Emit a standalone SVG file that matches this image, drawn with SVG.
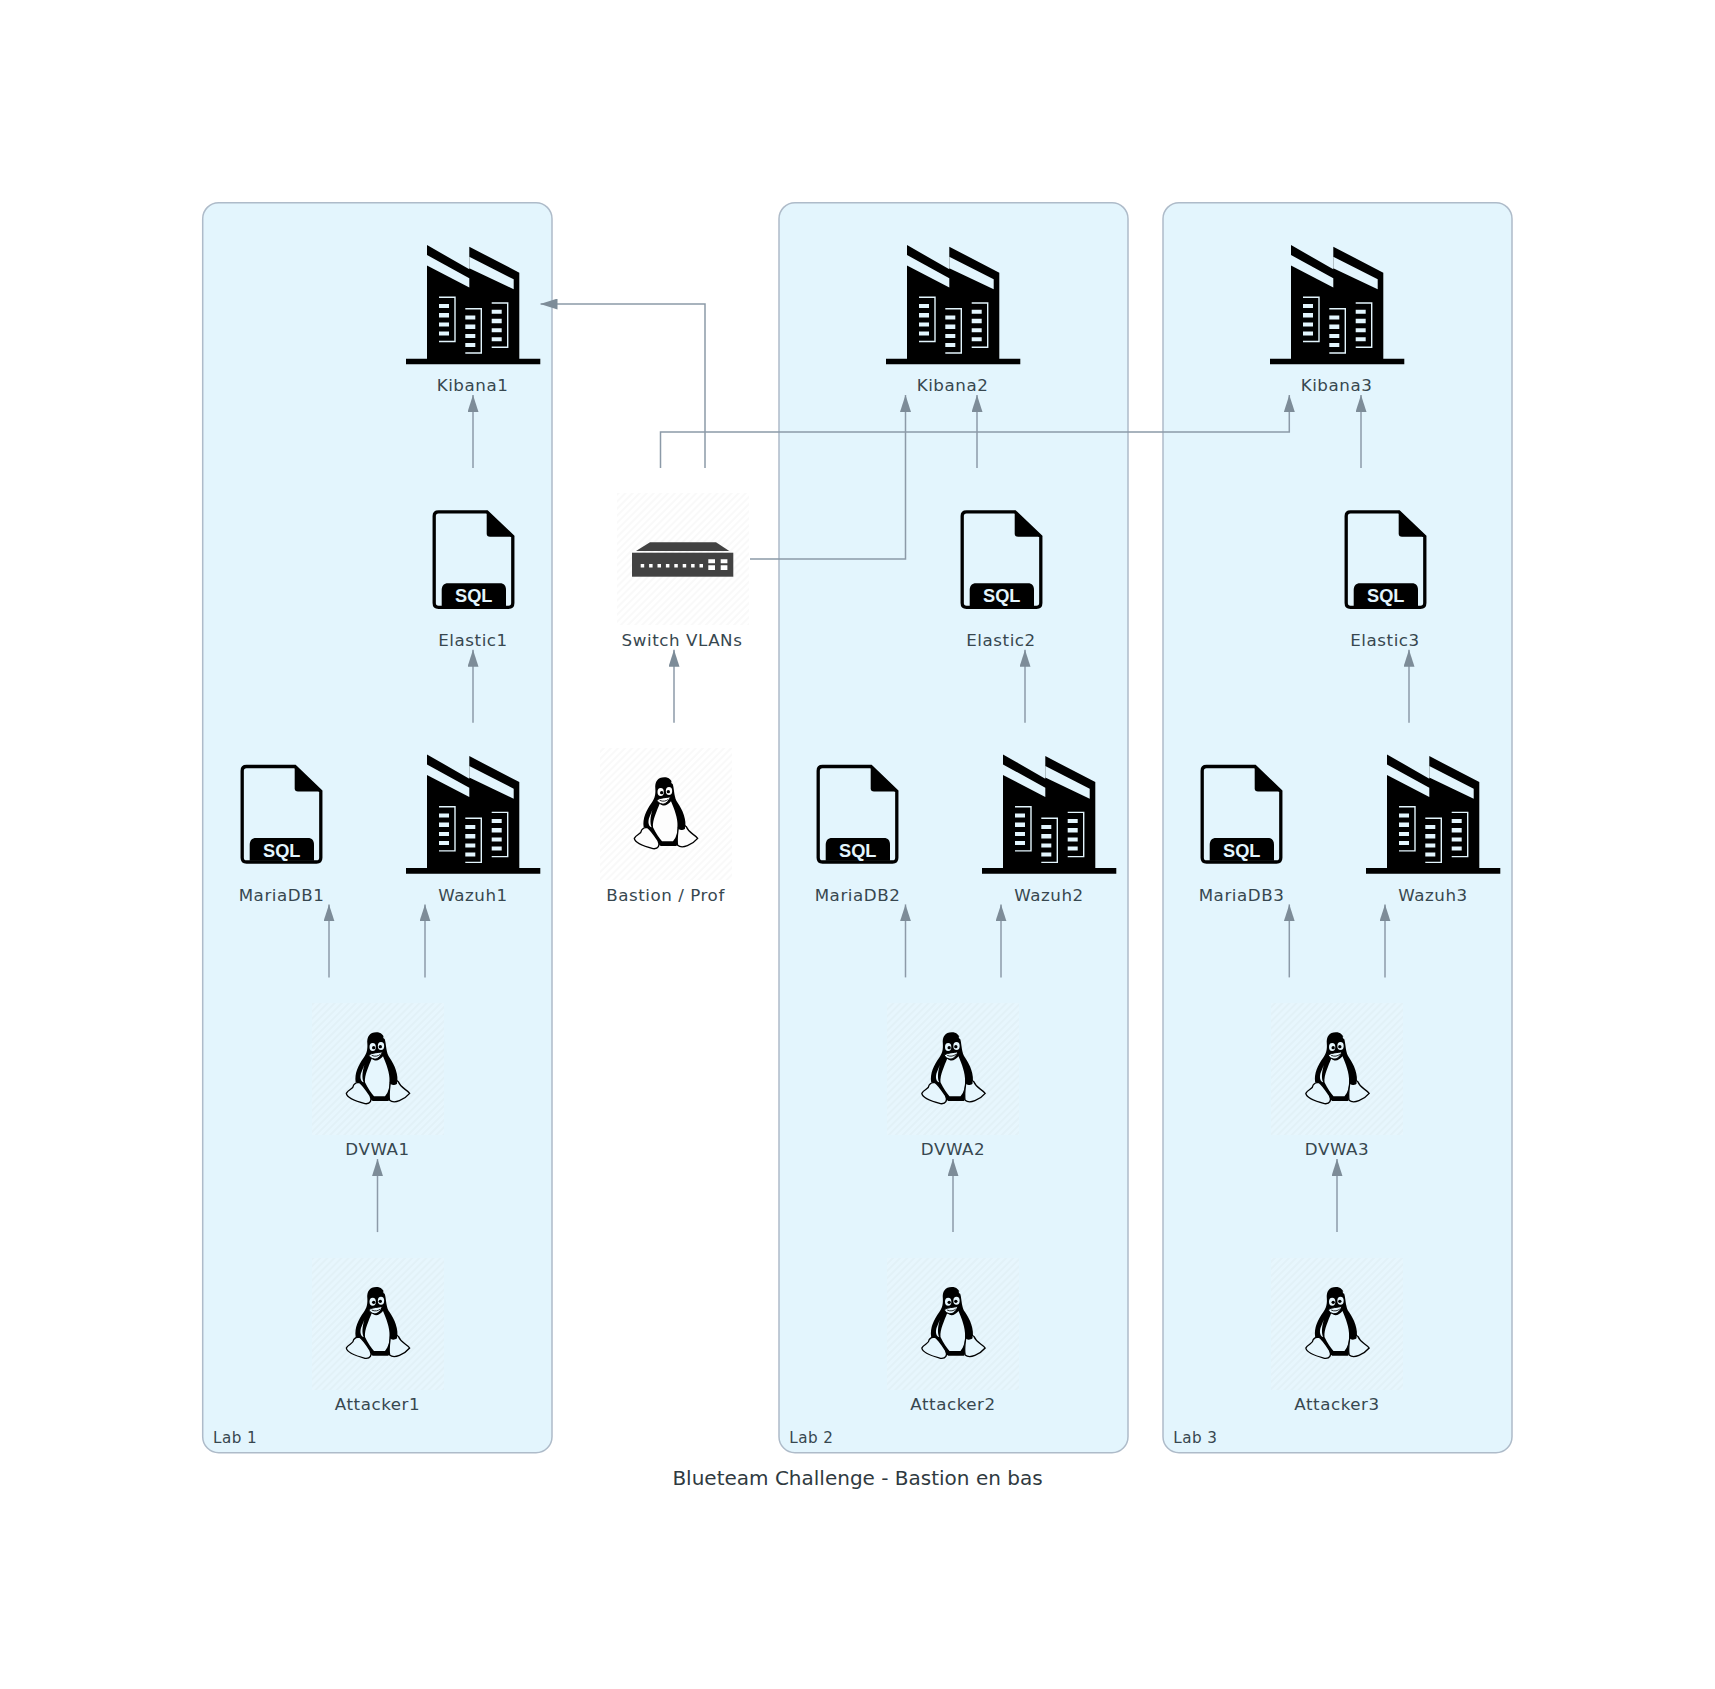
<svg xmlns="http://www.w3.org/2000/svg" xmlns:xlink="http://www.w3.org/1999/xlink" width="1715" height="1689" viewBox="0 0 1715 1689">
<style>
text{font-family:"DejaVu Sans",sans-serif;fill:#37474f}
.lbl{font-size:16.7px;text-anchor:middle;letter-spacing:.55px}
.lab{font-size:15.2px;letter-spacing:.45px}
.title{font-size:20px;text-anchor:middle;fill:#2f3a40}
.cluster{fill:#e3f5fd;stroke:#aebbc9;stroke-width:1.5}
.tile{fill:url(#hatch)}
.conn{fill:none;stroke:#8c9aa8;stroke-width:1.5;marker-end:url(#arrow)}
.sql{font-family:"Liberation Sans",Arial,sans-serif;font-weight:700;font-size:18.2px;text-anchor:middle;fill:#e3f5fd}
</style>
<defs>
<pattern id="hatch" width="5" height="5" patternUnits="userSpaceOnUse" patternTransform="rotate(45)">
<rect width="5" height="5" fill="#ffffff" fill-opacity="0.15"/>
<rect width="2" height="5" fill="#000000" fill-opacity="0.025"/>
</pattern>
<marker id="arrow" viewBox="0 0 17 11" refX="17" refY="5.5" markerWidth="17" markerHeight="11" markerUnits="userSpaceOnUse" orient="auto">
<path d="M0,0L17,5.5L0,11Z" fill="#7d8c98"/>
</marker>
<g id="factory">
<path d="M427,245L469.300,269.300L469.300,246.700L519.300,272.700V358.700H540.300V364.300H406V358.700H427Z" fill="#000"/>
<path d="M427,255L469.300,278.300V287.500L427,265.500ZM469.300,256.700L513.700,279.300V289.300L469.300,268.200Z" fill="#e3f5fd"/>
<g id="win" fill="#e3f5fd">
<path d="M439,304h10v4h-10zM439,313h10v4.500h-10zM439,322.500h10v4h-10zM439,331.500h10v4h-10z"/>
<path d="M439,297.300H455V341.500H439" fill="none" stroke="#e3f5fd" stroke-width="1.400"/>
</g>
<use xlink:href="#win" href="#win" x="26.300" y="11.500"/>
<use xlink:href="#win" href="#win" x="52.700" y="5.700"/>
</g>
<g id="sqlfile">
<path d="M438.500,511.800H487L512.800,536.500V603C512.800,605.800 511.300,607.300 508.500,607.300H438.500C435.700,607.300 434.200,605.800 434.200,603V516C434.200,513.300 435.700,511.800 438.500,511.800Z" fill="none" stroke="#000" stroke-width="3.300"/>
<path d="M486.700,510.500L514.300,536.700H490C487.800,536.700 486.700,535.600 486.700,533.500Z" fill="#000"/>
<path d="M441.700,606V590C441.700,585.800 444,583.300 448,583.300H500C504,583.300 506,585.800 506,590V606Z" fill="#000"/>
<text class="sql" x="473.700" y="602">SQL</text>
</g>
<g id="tux" transform="translate(341,1025) scale(0.33333)">
<path d="M106,22C86,22 77,36 79,56C80,72 78,84 68,98C52,120 40,145 44,172L62,180C70,196 84,220 95,228L142,228C152,215 162,195 168,176C174,150 160,118 146,98C135,84 136,60 132,45C128,30 120,22 106,22Z" fill="#000"/>
<path d="M92,101C84,122 70,150 72,172C80,190 92,205 99,214L132,214C143,200 146,186 146,170C146,142 136,118 126,94C115,108 102,110 92,101Z" fill="currentColor"/>
<path d="M70,120C64,140 62,160 68,172C60,170 56,160 60,145Z" fill="currentColor"/>
<path d="M127,34C131,36 133,40 131,42C128,42 126,38 127,34Z" fill="currentColor"/>
<ellipse cx="95" cy="66" rx="9.500" ry="12" fill="currentColor"/>
<ellipse cx="120" cy="63" rx="9.500" ry="12" fill="currentColor"/>
<circle cx="98" cy="68" r="5" fill="#000"/>
<circle cx="118" cy="65" r="5" fill="#000"/>
<path d="M83,90C95,82 110,84 124,80C120,94 110,103 100,102C92,101 87,97 83,90Z" fill="currentColor" stroke="#000" stroke-width="3"/>
<path d="M92,91C102,96 112,93 118,88" fill="none" stroke="#000" stroke-width="2.500"/>
<path d="M38,180C38,192 22,193 16,205C18,220 50,230 72,236C88,238 94,226 87,212C78,198 64,178 55,172C48,172 42,174 38,180Z" fill="currentColor" stroke="#000" stroke-width="4"/>
<path d="M148,172C146,190 142,210 146,226C160,238 190,224 206,205C196,192 180,190 172,170C165,163 155,165 148,172Z" fill="currentColor" stroke="#000" stroke-width="4"/>
<path d="M148,140C162,148 170,166 168,176C158,184 148,180 146,172Z" fill="#000"/>
</g>
</defs>
<rect width="1715" height="1689" fill="#ffffff"/>

<g id="lab1"><rect class="cluster" x="202.700" y="202.700" width="349.300" height="1250" rx="16"/><text class="lab" x="213" y="1442.700">Lab 1</text></g>
<g id="lab2"><rect class="cluster" x="779" y="202.700" width="349" height="1250" rx="16"/><text class="lab" x="789.300" y="1442.700">Lab 2</text></g>
<g id="lab3"><rect class="cluster" x="1163" y="202.700" width="349" height="1250" rx="16"/><text class="lab" x="1173.300" y="1442.700">Lab 3</text></g>

<g id="connectors">
<path class="conn" d="M473,468V395"/>
<path class="conn" d="M473,722.700V649.700"/>
<path class="conn" d="M329,977.400V904.400"/>
<path class="conn" d="M425,977.400V904.400"/>
<path class="conn" d="M377.500,1232.100V1159.100"/>
<path class="conn" d="M674,722.700V649.700"/>
<path class="conn" d="M750,559H905.500V395"/>
<path class="conn" d="M660.500,468V432H1289.300V395"/>
<path class="conn" d="M705,468V304H540.500"/>
<path class="conn" d="M977,468V395"/>
<path class="conn" d="M1025,722.700V649.700"/>
<path class="conn" d="M905.500,977.400V904.400"/>
<path class="conn" d="M1001,977.400V904.400"/>
<path class="conn" d="M953,1232.100V1159.100"/>
<path class="conn" d="M1361,468V395"/>
<path class="conn" d="M1409,722.700V649.700"/>
<path class="conn" d="M1289.300,977.400V904.400"/>
<path class="conn" d="M1385,977.400V904.400"/>
<path class="conn" d="M1337,1232.100V1159.100"/>
</g>

<g id="kibana1"><use xlink:href="#factory" href="#factory"/><text class="lbl" x="472.500" y="391">Kibana1</text></g>
<g id="kibana2"><use xlink:href="#factory" href="#factory" x="480"/><text class="lbl" x="952.500" y="391">Kibana2</text></g>
<g id="kibana3"><use xlink:href="#factory" href="#factory" x="864"/><text class="lbl" x="1336.500" y="391">Kibana3</text></g>

<g id="elastic1"><use xlink:href="#sqlfile" href="#sqlfile"/><text class="lbl" x="473" y="646">Elastic1</text></g>
<g id="elastic2"><use xlink:href="#sqlfile" href="#sqlfile" x="528"/><text class="lbl" x="1001" y="646">Elastic2</text></g>
<g id="elastic3"><use xlink:href="#sqlfile" href="#sqlfile" x="912"/><text class="lbl" x="1385" y="646">Elastic3</text></g>

<g id="mariadb1"><use xlink:href="#sqlfile" href="#sqlfile" x="-192" y="254.700"/><text class="lbl" x="281.500" y="901">MariaDB1</text></g>
<g id="mariadb2"><use xlink:href="#sqlfile" href="#sqlfile" x="384" y="254.700"/><text class="lbl" x="857.500" y="901">MariaDB2</text></g>
<g id="mariadb3"><use xlink:href="#sqlfile" href="#sqlfile" x="768" y="254.700"/><text class="lbl" x="1241.500" y="901">MariaDB3</text></g>

<g id="wazuh1"><use xlink:href="#factory" href="#factory" y="509.400"/><text class="lbl" x="473" y="901">Wazuh1</text></g>
<g id="wazuh2"><use xlink:href="#factory" href="#factory" x="576" y="509.400"/><text class="lbl" x="1049" y="901">Wazuh2</text></g>
<g id="wazuh3"><use xlink:href="#factory" href="#factory" x="960" y="509.400"/><text class="lbl" x="1433" y="901">Wazuh3</text></g>

<g id="switch">
<rect class="tile" x="617" y="493" width="132" height="132"/>
<path d="M636,551L650,542.300H716L729.300,551Z" fill="#424242"/>
<rect x="632" y="552.700" width="101.300" height="24" fill="#424242"/>
<path d="M640.700,564h3.500v3.500h-3.500zM649.100,564h3.500v3.500h-3.500zM657.500,564h3.500v3.500h-3.500zM665.900,564h3.500v3.500h-3.500zM674.300,564h3.500v3.500h-3.500zM682.700,564h3.500v3.500h-3.500zM691.100,564h3.500v3.500h-3.500zM699.500,564h3.500v3.500h-3.500zM708.300,559.300h6.700v4h-6.700zM720.700,559.300h6.700v4h-6.700zM708.300,565.300h6.700v4.700h-6.700zM720.700,565.300h6.700v4.700h-6.700z" fill="#ffffff"/>
<text class="lbl" x="682" y="646">Switch VLANs</text>
</g>

<g id="bastion" color="#fdfdfd">
<rect class="tile" x="600" y="748" width="132" height="132"/>
<use xlink:href="#tux" href="#tux" x="288" y="-255"/>
<text class="lbl" x="665.500" y="901">Bastion / Prof</text>
</g>

<g id="dvwa1" color="#e6f6fd"><rect class="tile" x="312" y="1003" width="132" height="132"/><use xlink:href="#tux" href="#tux"/><text class="lbl" x="377.500" y="1155">DVWA1</text></g>
<g id="dvwa2" color="#e6f6fd"><rect class="tile" x="887" y="1003" width="132" height="132"/><use xlink:href="#tux" href="#tux" x="575.500"/><text class="lbl" x="953" y="1155">DVWA2</text></g>
<g id="dvwa3" color="#e6f6fd"><rect class="tile" x="1271" y="1003" width="132" height="132"/><use xlink:href="#tux" href="#tux" x="959.500"/><text class="lbl" x="1337" y="1155">DVWA3</text></g>

<g id="attacker1" color="#e6f6fd"><rect class="tile" x="312" y="1258" width="132" height="132"/><use xlink:href="#tux" href="#tux" y="254.700"/><text class="lbl" x="377.500" y="1410">Attacker1</text></g>
<g id="attacker2" color="#e6f6fd"><rect class="tile" x="887" y="1258" width="132" height="132"/><use xlink:href="#tux" href="#tux" x="575.500" y="254.700"/><text class="lbl" x="953" y="1410">Attacker2</text></g>
<g id="attacker3" color="#e6f6fd"><rect class="tile" x="1271" y="1258" width="132" height="132"/><use xlink:href="#tux" href="#tux" x="959.500" y="254.700"/><text class="lbl" x="1337" y="1410">Attacker3</text></g>

<text class="title" x="857.500" y="1484.700">Blueteam Challenge - Bastion en bas</text>
</svg>
